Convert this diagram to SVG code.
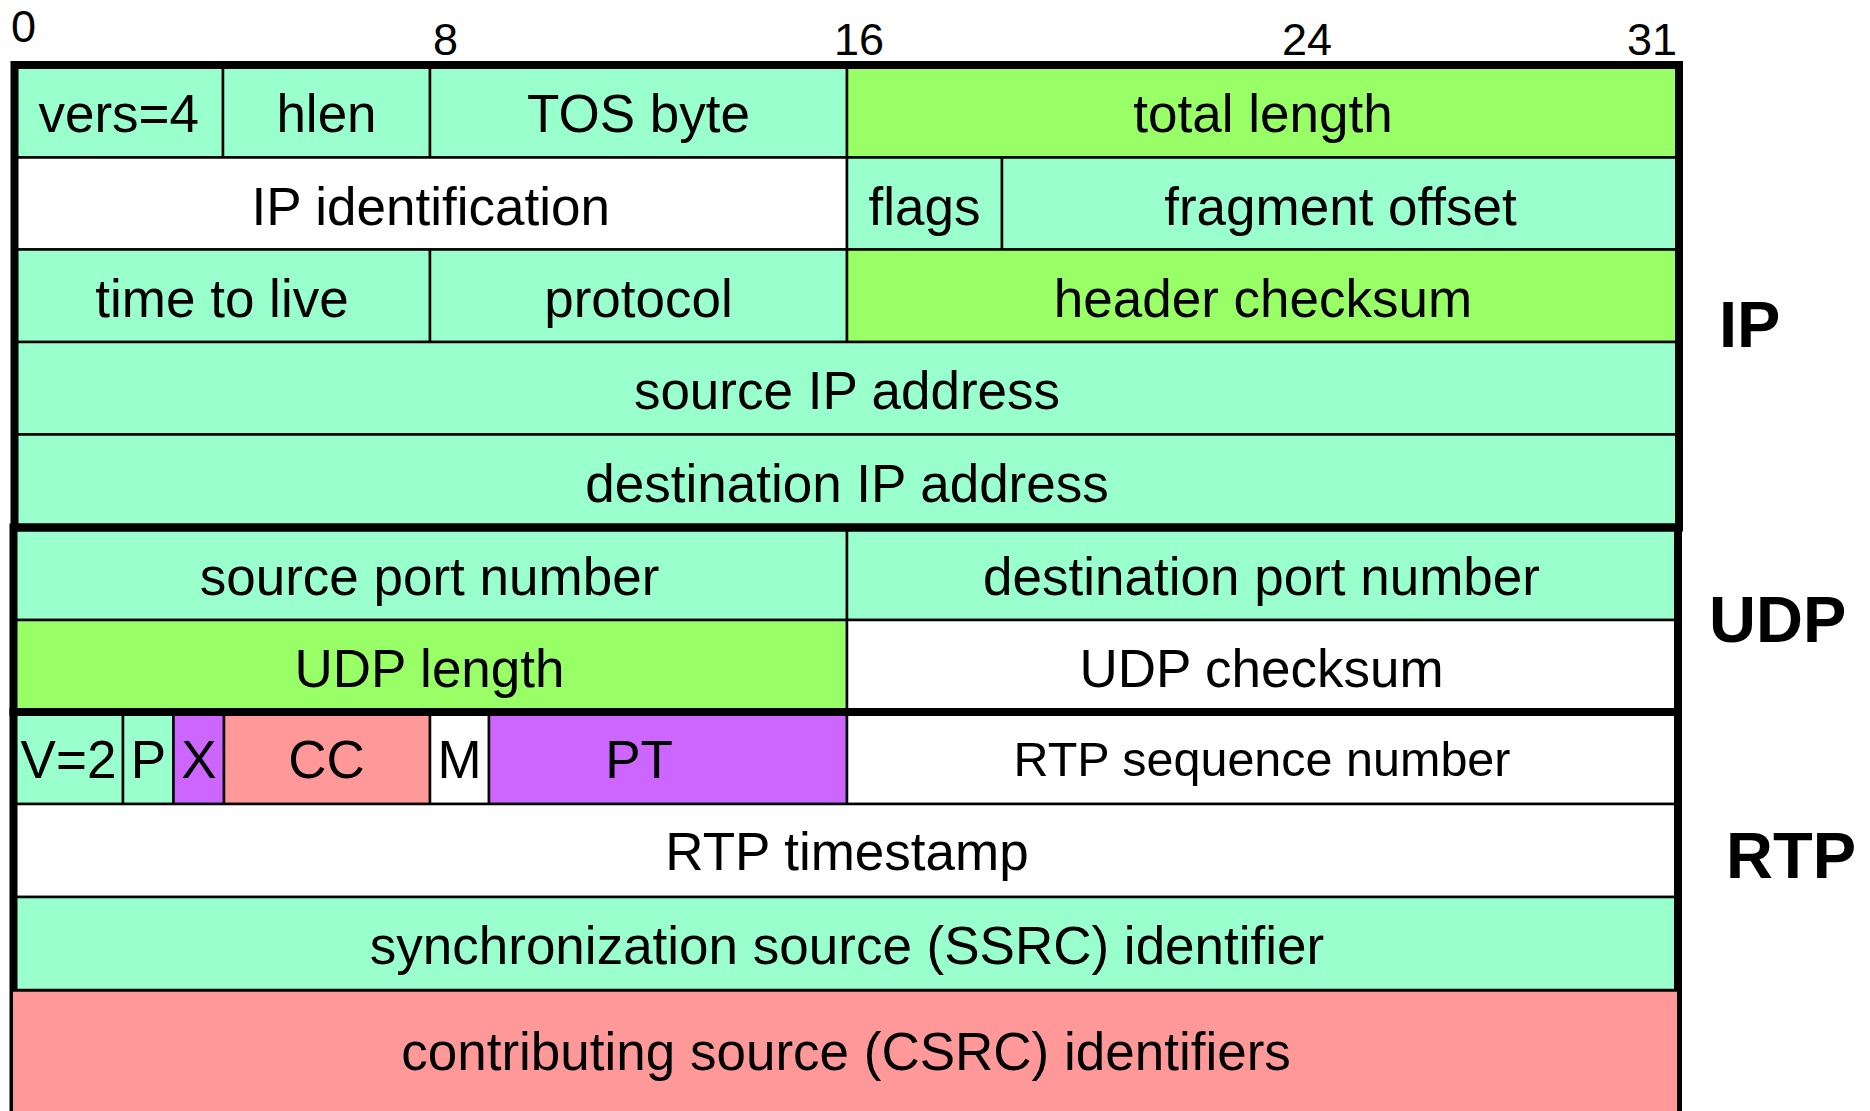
<svg xmlns="http://www.w3.org/2000/svg" width="1870" height="1111" viewBox="0 0 1870 1111">
  <style>
    .cell { stroke: #000; stroke-width: 2.5; }
    .aqua { fill: #99FFCC; }
    .lime { fill: #99FF66; }
    .purple { fill: #CC66FF; }
    .pink { fill: #FF9999; }
    .white { fill: #FFFFFF; }
    .box { fill: none; stroke: #000; stroke-width: 8; }
    text { font-family: "Liberation Sans", Arial, sans-serif; fill: #000; }
    .lbl { font-size: 53px; text-anchor: middle; }
    .lbl-s { font-size: 48.5px; text-anchor: middle; }
    .bit { font-size: 45px; }
    .proto { font-size: 65px; font-weight: bold; }
  </style>

  <rect width="1870" height="1111" fill="#FFFFFF"/>

  <!-- bit position ruler -->
  <g id="bit-ruler">
    <text class="bit" x="11" y="42">0</text>
    <text class="bit" x="433" y="55">8</text>
    <text class="bit" x="834" y="55">16</text>
    <text class="bit" x="1282" y="55">24</text>
    <text class="bit" x="1627" y="55">31</text>
  </g>

  <!-- IP header -->
  <g id="ip-header">
    <g id="ip-vers"><rect class="cell aqua" x="14.5" y="65" width="208.5" height="92.5"/><text class="lbl" x="118.75" y="132">vers=4</text></g>
    <g id="ip-hlen"><rect class="cell aqua" x="223" y="65" width="207" height="92.5"/><text class="lbl" x="326.5" y="132">hlen</text></g>
    <g id="ip-tos"><rect class="cell aqua" x="430" y="65" width="417" height="92.5"/><text class="lbl" x="638.5" y="132">TOS byte</text></g>
    <g id="ip-total-length"><rect class="cell lime" x="847" y="65" width="832" height="92.5"/><text class="lbl" x="1263" y="132">total length</text></g>

    <g id="ip-identification"><rect class="cell white" x="14.5" y="157.5" width="832.5" height="92"/><text class="lbl" x="430.75" y="224.5">IP identification</text></g>
    <g id="ip-flags"><rect class="cell aqua" x="847" y="157.5" width="155" height="92"/><text class="lbl" x="924.5" y="224.5">flags</text></g>
    <g id="ip-fragment-offset"><rect class="cell aqua" x="1002" y="157.5" width="677" height="92"/><text class="lbl" x="1340.5" y="224.5">fragment offset</text></g>

    <g id="ip-ttl"><rect class="cell aqua" x="14.5" y="249.5" width="415.5" height="92.5"/><text class="lbl" x="222" y="316.5">time to live</text></g>
    <g id="ip-protocol"><rect class="cell aqua" x="430" y="249.5" width="417" height="92.5"/><text class="lbl" x="638.5" y="316.5">protocol</text></g>
    <g id="ip-header-checksum"><rect class="cell lime" x="847" y="249.5" width="832" height="92.5"/><text class="lbl" x="1263" y="316.5">header checksum</text></g>

    <g id="ip-source"><rect class="cell aqua" x="14.5" y="342" width="1664.5" height="92.5"/><text class="lbl" x="847" y="409">source IP address</text></g>
    <g id="ip-destination"><rect class="cell aqua" x="14.5" y="434.5" width="1664.5" height="93"/><text class="lbl" x="847" y="501.5">destination IP address</text></g>
  </g>

  <!-- UDP header -->
  <g id="udp-header">
    <g id="udp-source-port"><rect class="cell aqua" x="13.5" y="527.5" width="833.5" height="92.5"/><text class="lbl" x="429.5" y="595">source port number</text></g>
    <g id="udp-destination-port"><rect class="cell aqua" x="847" y="527.5" width="831" height="92.5"/><text class="lbl" x="1261.5" y="595">destination port number</text></g>
    <g id="udp-length"><rect class="cell lime" x="13.5" y="620" width="833.5" height="92"/><text class="lbl" x="429.5" y="687">UDP length</text></g>
    <g id="udp-checksum"><rect class="cell white" x="847" y="620" width="831" height="92"/><text class="lbl" x="1261.5" y="687">UDP checksum</text></g>
  </g>

  <!-- RTP header -->
  <g id="rtp-header">
    <g id="rtp-version"><rect class="cell aqua" x="13.5" y="712" width="109.5" height="92"/><text class="lbl" x="68.5" y="778">V=2</text></g>
    <g id="rtp-padding"><rect class="cell aqua" x="123" y="712" width="50.5" height="92"/><text class="lbl" x="148.5" y="778">P</text></g>
    <g id="rtp-extension"><rect class="cell purple" x="173.5" y="712" width="50.5" height="92"/><text class="lbl" x="199" y="778">X</text></g>
    <g id="rtp-csrc-count"><rect class="cell pink" x="224" y="712" width="206" height="92"/><text class="lbl" x="326.5" y="778">CC</text></g>
    <g id="rtp-marker"><rect class="cell white" x="430" y="712" width="59" height="92"/><text class="lbl" x="459.5" y="778">M</text></g>
    <g id="rtp-payload-type"><rect class="cell purple" x="489" y="712" width="358" height="92"/><text class="lbl" x="639" y="778">PT</text></g>
    <g id="rtp-sequence"><rect class="cell white" x="847" y="712" width="831" height="92"/><text class="lbl-s" x="1262" y="776">RTP sequence number</text></g>

    <g id="rtp-timestamp"><rect class="cell white" x="13.5" y="804" width="1664.5" height="93"/><text class="lbl" x="847" y="870">RTP timestamp</text></g>
    <g id="rtp-ssrc"><rect class="cell aqua" x="13.5" y="897" width="1664.5" height="93"/><text class="lbl" x="847" y="963.5">synchronization source (SSRC) identifier</text></g>
  </g>

  <!-- heavy outlines around each protocol header -->
  <g id="outlines">
    <rect class="box" x="14.5" y="65" width="1664.5" height="462.5"/>
    <rect class="box" x="13.5" y="527.5" width="1664.5" height="184.5"/>
    <rect class="box" x="13.5" y="712" width="1664.5" height="440"/>
  </g>

  <!-- contributing sources block, laid over the inner half of the outline -->
  <g id="rtp-csrc">
    <rect class="pink" x="13" y="990" width="1664" height="130"/>
    <line x1="13" y1="990.5" x2="1677" y2="990.5" stroke="#000" stroke-width="2.5"/>
    <text class="lbl" x="846" y="1070">contributing source (CSRC) identifiers</text>
  </g>

  <!-- protocol names -->
  <g id="protocol-labels">
    <text class="proto" x="1719" y="347">IP</text>
    <text class="proto" x="1709" y="642">UDP</text>
    <text class="proto" x="1726" y="878">RTP</text>
  </g>
</svg>
